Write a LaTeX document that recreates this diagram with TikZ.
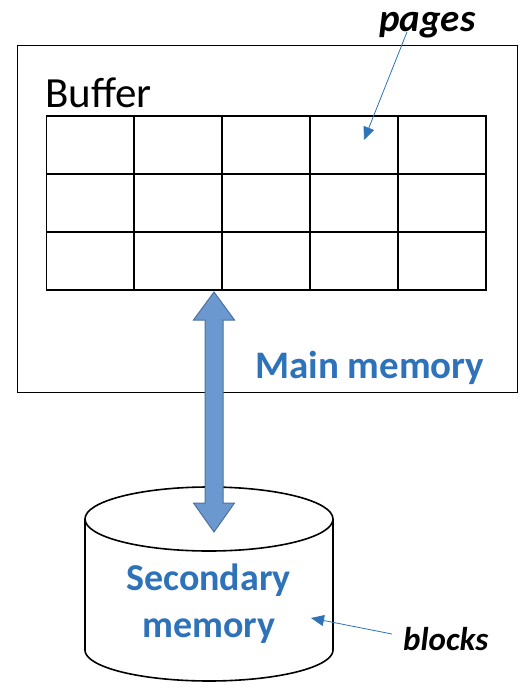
\documentclass[tikz,border=0pt]{standalone}
\usepackage{fontspec}
\setmainfont{Carlito}
\usetikzlibrary{arrows.meta}
\definecolor{txtblue}{HTML}{2E72BA}
\definecolor{arrfill}{HTML}{6A98CF}
\definecolor{arredge}{HTML}{4A72A0}
\tikzset{
  frame/.style={draw=black, line width=1.6pt},
  cell/.style={draw=black, line width=1.6pt, minimum width=87.9pt, minimum height=58pt, inner sep=0pt, anchor=north west},
  lbl/.style={inner sep=0pt, anchor=base west},
  pointer/.style={draw=txtblue, line width=0.8pt, -{Triangle[length=13pt,width=11pt]}},
}
\begin{document}
\begin{tikzpicture}[x=1pt,y=-1pt]
\useasboundingbox (0,0) rectangle (528,694);
% main memory box
\node[frame, minimum width=500pt, minimum height=347pt, inner sep=0pt, anchor=north west] (mainbox) at (16.5,44.5) {};
\node[lbl, font=\fontsize{43}{43}\selectfont] (buffer) at (45,107) {Buffer};
% grid of pages
\foreach \r in {0,1,2}{
  \foreach \c in {0,1,2,3,4}{
    \node[cell] (c-\r-\c) at ({45.5+87.9*\c},{115+58*\r}) {};
  }
}
\node[lbl, font=\fontsize{39}{39}\selectfont\bfseries, text=txtblue] (mainlbl) at (255,378) {Main memory};
% cylinder
\coordinate (cyltop) at (209,519);
\fill[white] (85,519) -- (85,650) plot[domain=180:360, samples=60] ({209+124*cos(\x)},{650-31*sin(\x)}) -- (333,519) -- cycle;
\draw[line width=1.6pt] (85,519) -- (85,650) plot[domain=180:360, samples=60] ({209+124*cos(\x)},{650-31*sin(\x)}) -- (333,519);
\draw[line width=1.6pt, fill=white] (cyltop) ellipse [x radius=124, y radius=32];
\node[inner sep=0pt, anchor=base, font=\fontsize{38}{38}\selectfont\bfseries, text=txtblue] (sec1) at (208.5,590) {Secondary};
\node[inner sep=0pt, anchor=base, font=\fontsize{38}{38}\selectfont\bfseries, text=txtblue] (sec2) at (209,637) {memory};
% double arrow
\coordinate (atop) at (214,292);
\coordinate (abot) at (214,532);
\filldraw[fill=arrfill, draw=arredge, line width=1pt, line join=miter]
  (atop) -- (234.5,320) -- (223,320) -- (223,503) -- (234.5,503) -- (abot)
  -- (193.5,503) -- (205,503) -- (205,320) -- (193.5,320) -- cycle;
% labels with pointers
\node[lbl, font=\fontsize{39}{39}\selectfont\bfseries\itshape] (pages) at (379,31) {pages};
\coordinate (pagestip) at (364,140);
\draw[pointer] (407,32) -- (pagestip);
\node[lbl, font=\fontsize{33}{33}\selectfont\bfseries\itshape] (blocks) at (403,650) {blocks};
\coordinate (blockstip) at (311,618);
\draw[pointer] (392,634) -- (blockstip);
\end{tikzpicture}
\end{document}
